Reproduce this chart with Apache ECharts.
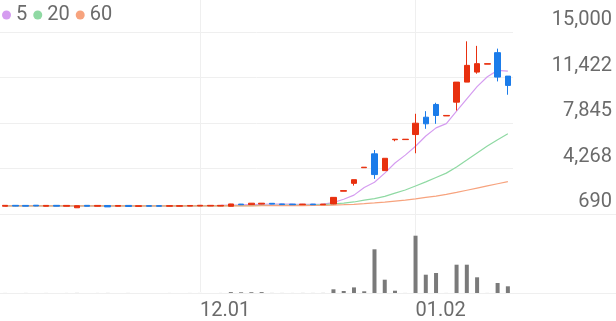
<!DOCTYPE html>
<html><head><meta charset="utf-8">
<script src="https://cdn.jsdelivr.net/npm/echarts@6/dist/echarts.min.js"></script>
<style>html,body{margin:0;padding:0;background:#fff}#c{width:616px;height:321px}</style>
</head><body><div id="c"></div>
<script>
const dates = ['11.04','11.07','11.08','11.09','11.10','11.11','11.14','11.15','11.16','11.17',
  '11.18','11.21','11.22','11.23','11.24','11.25','11.28','11.29','11.30','12.01',
  '12.02','12.05','12.06','12.07','12.08','12.09','12.12','12.13','12.14','12.15',
  '12.16','12.19','12.20','12.21','12.22','12.23','12.26','12.27','12.28','12.29',
  '01.02','01.03','01.04','01.05','01.06','01.09','01.10','01.11','01.12','01.13'];
const opens  = [1300,1370,1365,1380,1300,1370,1300,1180,1370,1300,
  1360,1300,1365,1290,1345,1345,1300,1300,1310,1320,
  1320,1315,1300,1470,1430,1470,1530,1480,1470,1420,
  1470,1420,1478,2480,3100,4330,5420,4100,6530,6540,
  6938,8302,9303,8400,9484,11060,11848,12470,13377,11533];
const closes = [1370,1310,1305,1320,1365,1305,1365,1340,1300,1365,
  1250,1360,1280,1340,1300,1300,1345,1345,1360,1375,
  1370,1370,1480,1420,1540,1540,1470,1430,1420,1470,
  1420,1470,1998,2530,3390,4370,3790,5070,6570,6570,
  7829,7782,8436,8440,11060,12376,12510,12510,11454,10800];
const lows   = [1290,1300,1300,1310,1290,1300,1295,1170,1290,1290,
  1240,1290,1275,1285,1295,1295,1295,1295,1305,1315,
  1315,1310,1290,1410,1420,1460,1460,1420,1410,1410,
  1410,1410,1460,2480,2920,4330,3450,4100,6410,6540,
  5465,7388,7782,8400,8830,11060,11722,12470,11115,10067];
const highs  = [1380,1380,1370,1390,1370,1375,1370,1350,1375,1370,
  1370,1365,1370,1345,1350,1350,1350,1350,1365,1380,
  1375,1375,1490,1480,1550,1550,1540,1490,1480,1480,
  1480,1480,2020,2530,3390,4370,5720,5070,6570,6570,
  8570,8775,9437,8440,11060,14267,13910,12510,13692,11533];
const volumes = [4,3,5,2,4,3,4,8,3,4,
  6,3,5,3,3,2,4,3,4,4,
  3,5,90,70,80,90,8,6,5,8,
  6,10,370,200,560,170,4370,1330,230,5,
  5730,1830,2000,5,2830,2830,1570,5,1000,670];
const ma5  = [1335,1338,1340,1342,1340,1338,1336,1330,1328,1330,
  1325,1322,1318,1320,1322,1320,1325,1330,1335,1345,
  1355,1362,1390,1405,1430,1455,1475,1470,1460,1455,
  1450,1460,1590,1850,2175,2770,3190,3900,4700,5320,
  6020,6820,7460,7800,8770,9750,10700,11480,11982,11930];
const ma20 = [1335,1335,1335,1335,1335,1335,1335,1335,1335,1335,
  1335,1335,1335,1335,1335,1335,1335,1335,1335,1335,
  1335,1335,1342,1348,1356,1365,1372,1380,1388,1396,
  1405,1420,1486,1541,1636,1777,1896,2077,2329,2581,
  2896,3212,3558,3905,4386,4929,5481,6033,6529,6994];
const ma60 = [1325,1325,1325,1325,1325,1325,1325,1325,1325,1325,
  1325,1325,1325,1325,1325,1325,1325,1325,1325,1325,
  1325,1325,1328,1331,1334,1338,1341,1345,1350,1355,
  1360,1370,1390,1420,1454,1502,1557,1620,1707,1785,
  1880,1990,2101,2227,2384,2558,2731,2904,3070,3235];
const yTickLabels = ['690','4,268','7,845','11,422','15,000'];
const xTickLabels = ['12.01','01.02'];
const legendNames = ['5','20','60'];
const maSeries = [ma5, ma20, ma60];

const UP = '#e8300f', DOWN = '#1b7cea';
const maColors = ['#d59cf0', '#8fd9a3', '#f7a37e'];
const yMin = 690, yMax = 15000;
const yInterval = (yMax - yMin) / 4;
const FONT = 'Roboto';
const TXT = '#6b6b6b';
const GRIDC = '#efefef';

const candleData = dates.map((d, i) => [opens[i], closes[i], lows[i], highs[i]]);

const chart = echarts.init(document.getElementById('c'), null, {renderer: 'canvas'});
const option = {
  animation: false,
  legend: {
    data: legendNames, icon: 'circle', itemWidth: 9, itemHeight: 9, itemGap: 6,
    left: 2, top: 5, padding: 0,
    textStyle: {fontSize: 20, color: TXT, fontFamily: FONT}
  },
  grid: [
    {left: 0, right: 103, top: 32, height: 182},
    {left: 0, right: 103, top: 233, height: 60},
    {left: 5.13, right: 108.13, top: 0, height: 293},
    {left: 0, right: 0, top: 0, height: 214},
    {left: 0, right: 0, top: 0, height: 293}
  ],
  xAxis: [
    {type: 'category', gridIndex: 0, data: dates, boundaryGap: true, show: false},
    {type: 'category', gridIndex: 1, data: dates, boundaryGap: true, show: false},
    {type: 'category', gridIndex: 2, data: dates, boundaryGap: false,
      axisLine: {show: false}, axisTick: {show: false},
      splitLine: {show: true, interval: (i, v) => xTickLabels.includes(v), lineStyle: {color: GRIDC, width: 1}},
      axisLabel: {interval: (i, v) => xTickLabels.includes(v), align: 'left', margin: 9,
        fontSize: 20, color: TXT, fontFamily: FONT}},
    {type: 'value', gridIndex: 3, min: 0, max: 1, axisLine: {show: true, lineStyle: {color: GRIDC}},
      axisTick: {show: false}, axisLabel: {show: false}, splitLine: {show: false}},
    {type: 'value', gridIndex: 4, min: 0, max: 1, axisLine: {show: true, lineStyle: {color: GRIDC}},
      axisTick: {show: false}, axisLabel: {show: false}, splitLine: {show: false}}
  ],
  yAxis: [
    {type: 'value', gridIndex: 0, position: 'right', min: yMin, max: yMax, interval: yInterval,
      axisLine: {show: false}, axisTick: {show: false},
      splitLine: {show: true, lineStyle: {color: GRIDC, width: 1}},
      axisLabel: {
        formatter: (v) => yTickLabels[Math.round((v - yMin) / yInterval)],
        align: 'right', margin: 99, verticalAlign: 'bottom', padding: [0, 0, 2, 0],
        fontSize: 20, color: TXT, fontFamily: FONT
      }},
    {type: 'value', gridIndex: 1, min: 0, max: 6000, show: false},
    {type: 'value', gridIndex: 2, show: false},
    {type: 'value', gridIndex: 3, show: false},
    {type: 'value', gridIndex: 4, show: false}
  ],
  series: [
    ...legendNames.map((n, k) => ({
      name: n, type: 'line', xAxisIndex: 0, yAxisIndex: 0, data: maSeries[k],
      showSymbol: false, symbol: 'none', smooth: false,
      itemStyle: {color: maColors[k]},
      lineStyle: {color: maColors[k], width: 1.2}, z: 2
    })),
    {type: 'candlestick', xAxisIndex: 0, yAxisIndex: 0, data: candleData, barWidth: 6, z: 3,
      itemStyle: {color: UP, color0: DOWN, borderColor: UP, borderColor0: DOWN, borderWidth: 1}},
    {type: 'bar', xAxisIndex: 1, yAxisIndex: 1, data: volumes, barWidth: 4,
      itemStyle: {color: '#7a7a7a'}}
  ]
};
chart.setOption(option);
</script></body></html>
